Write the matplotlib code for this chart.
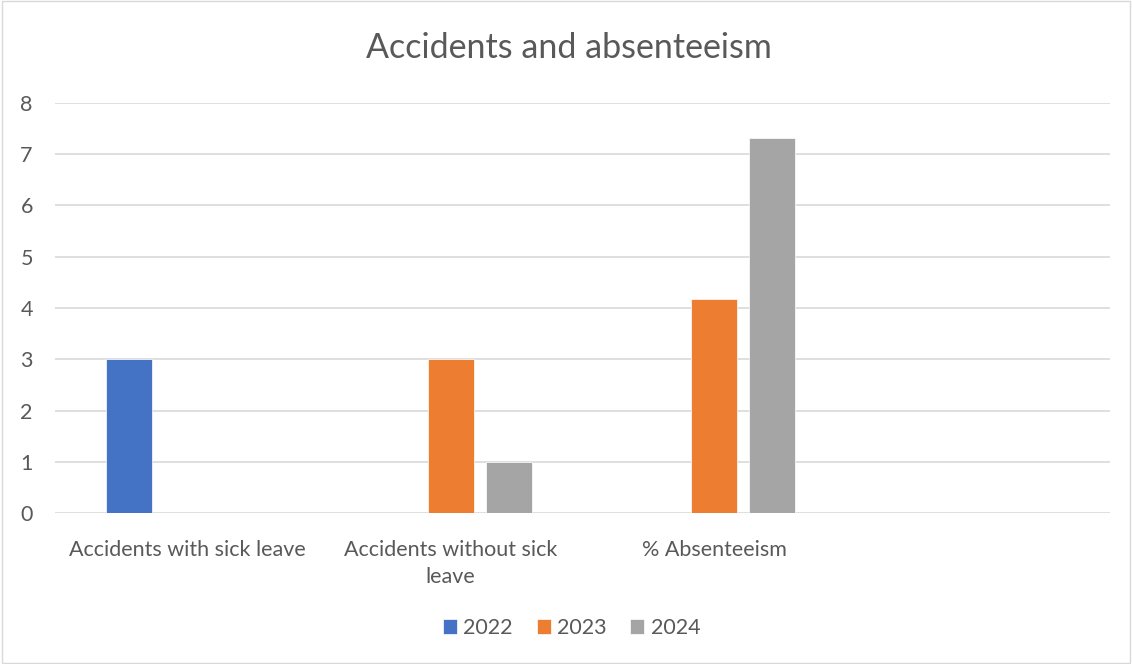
import matplotlib.pyplot as plt
import numpy as np
from matplotlib.patches import Rectangle

plt.rcParams["font.family"] = ["Lato", "DejaVu Sans"]

categories = ["Accidents with sick leave", "Accidents without sick\nleave", "% Absenteeism", ""]
years = ["2022", "2023", "2024"]
values_2022 = [3, 0, 0, 0]
values_2023 = [0, 3, 4.17, 0]
values_2024 = [0, 1, 7.32, 0]
colors = ["#4472C4", "#ED7D31", "#A5A5A5"]

fig = plt.figure(figsize=(11.32, 6.64), dpi=100)
fig.patches.append(Rectangle((0.002, 0.002), 0.996, 0.996, transform=fig.transFigure,
                             fill=False, edgecolor="#D9D9D9", linewidth=1))
ax = fig.add_axes([0.0486, 0.2269, 0.932, 0.6184])

x = np.arange(len(categories))
width = 0.174
step = 0.22
for i, (vals, label) in enumerate(zip([values_2022, values_2023, values_2024], years)):
    ax.bar(x + (i - 1) * step, vals, width, color=colors[i], label=label,
           edgecolor="white", linewidth=0.5, zorder=3)

ax.set_xlim(-0.5, 3.5)
ax.set_ylim(0, 8)
ax.set_yticks(range(0, 9))
ax.set_xticks(x)
ax.set_xticklabels(categories, fontsize=15.5, color="#595959", linespacing=1.45)
ax.tick_params(axis="both", length=0, colors="#595959")
ax.tick_params(axis="y", labelsize=15.5, pad=16)
ax.tick_params(axis="x", pad=19)
ax.grid(axis="y", color="#D9D9D9", linewidth=1.2, zorder=0)
for s in ax.spines.values():
    s.set_visible(False)

fig.text(0.503, 0.927, "Accidents and absenteeism", ha="center", va="center",
         fontsize=24.5, color="#595959")

fig.legend(loc="center", bbox_to_anchor=(0.505, 0.054), ncol=3, frameon=False,
           fontsize=15.5, handlelength=0.65, handleheight=0.65, handletextpad=0.3,
           columnspacing=1.1, labelcolor="#595959")

fig.savefig("out.png", dpi=100)
